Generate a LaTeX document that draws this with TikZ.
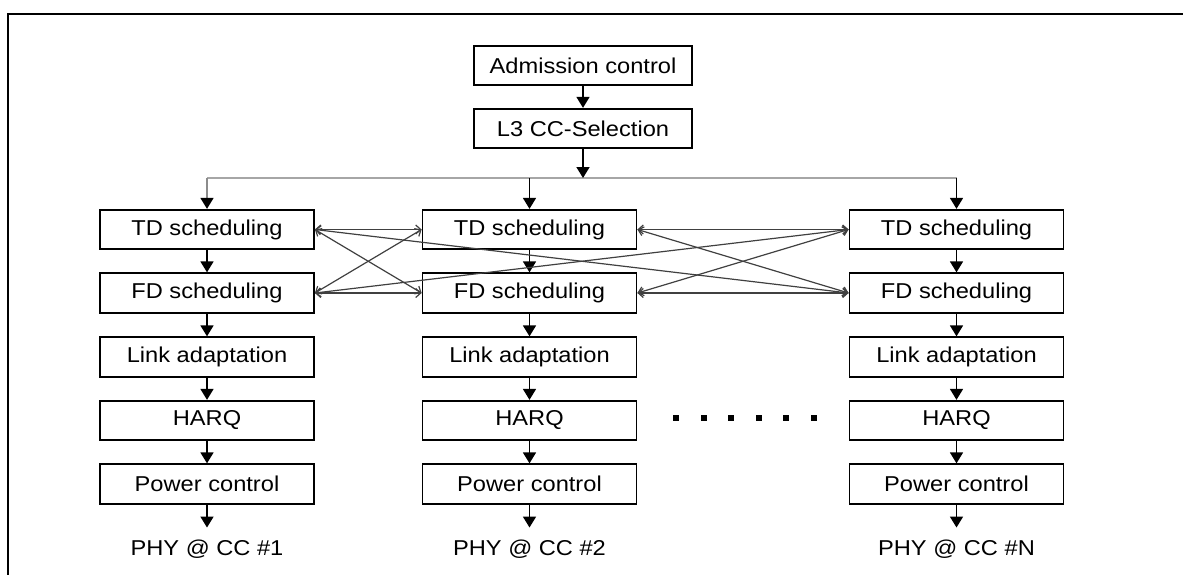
\documentclass[tikz,border=0pt]{standalone}
\usepackage{fontspec}
\setmainfont{Liberation Sans}[FakeStretch=1.1]
\usetikzlibrary{arrows.meta}
\begin{document}
\begin{tikzpicture}[x=1pt,y=-1pt,
  box/.style={draw=black, line width=1.8pt, fill=white, minimum width=214pt, minimum height=39.5pt, inner sep=0pt, font=\fontsize{21.5}{24}\selectfont},
  flow/.style={line width=1.7pt, -{Triangle[width=13pt,length=11pt,color=black]}},
  xlink/.style={draw=black!75, line width=1.2pt, {Straight Barb[length=5pt,width=9pt]}-{Straight Barb[length=5pt,width=9pt]}},
  lbl/.style={font=\fontsize{21.5}{24}\selectfont, inner sep=0pt},
  dot/.style={fill=black}]
\useasboundingbox (0,0) rectangle (1183,574);
\clip (0,0) rectangle (1183,574);
% frame
\draw[line width=2.2pt] (8,600) -- (8,14) -- (1200,14);
% top boxes
\node[box, minimum width=218pt] (adm) at (583,65.5) {Admission control};
\node[box, minimum width=218pt] (l3) at (583,128.5) {L3 CC-Selection};
% columns
\foreach \c/\x/\n in {1/207/1, 2/529.5/2, 3/956.5/N} {
  \node[box] (td\c) at (\x,229.5) {TD scheduling};
  \node[box] (fd\c) at (\x,293) {FD scheduling};
  \node[box] (la\c) at (\x,357) {Link adaptation};
  \node[box] (hq\c) at (\x,420.5) {HARQ};
  \node[box] (pc\c) at (\x,484) {Power control};
  \node[lbl] (phy\c) at (\x,549) {PHY @ CC \#\n};
  \draw[flow] (td\c) -- (fd\c);
  \draw[flow] (fd\c) -- (la\c);
  \draw[flow] (la\c) -- (hq\c);
  \draw[flow] (hq\c) -- (pc\c);
  \draw[flow, shorten >=12pt] (pc\c) -- (phy\c);
}
% distribution
\coordinate (sp) at (583,178);
\coordinate (dl) at (207,178);
\coordinate (dm) at (529.5,178);
\coordinate (dr) at (956.5,178);
\draw[flow] (adm) -- (l3);
\draw[black!35, line width=2pt] (dl) -- (dr);
\draw[flow] (l3) -- (sp);
\draw[flow, draw=black!45] (dl) -- (td1);
\draw[flow] (dm) -- (td2);
\draw[flow] (dr) -- (td3);
% cross links
\foreach \i/\j in {1/2, 2/3} {
  \draw[xlink] (td\i.east) -- (td\j.west);
  \draw[xlink] (td\i.east) -- (fd\j.west);
  \draw[xlink] (fd\i.east) -- (td\j.west);
  \draw[xlink] (fd\i.east) -- (fd\j.west);
}
\draw[xlink] (td1.east) -- (fd3.west);
\draw[xlink] (fd1.east) -- (td3.west);
% ellipsis dots
\foreach \x in {676,703.5,731,758.5,786,813.5} {
  \fill[dot] (\x-3,415) rectangle (\x+3,421);
}
\end{tikzpicture}
\end{document}
